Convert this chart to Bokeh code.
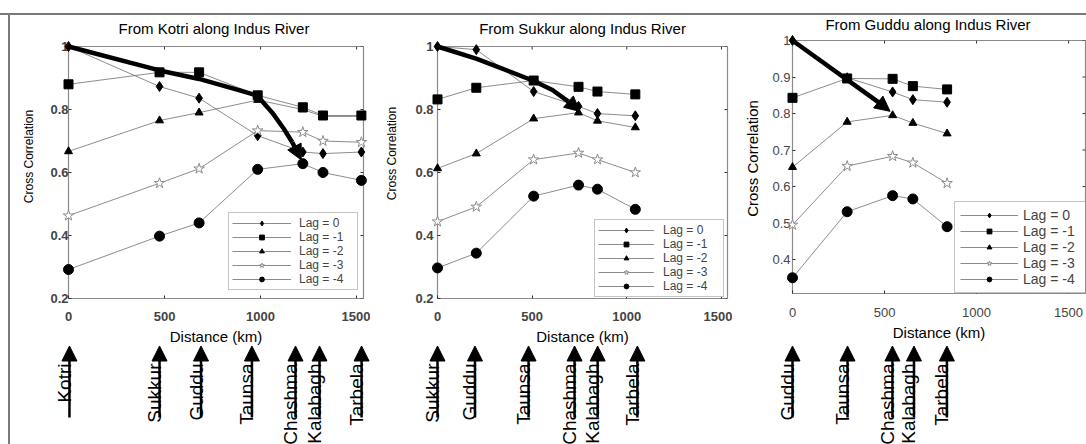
import math
from bokeh.plotting import figure
from bokeh.models import (Range1d, FixedTicker, Legend, LegendItem,
                          Arrow, NormalHead, CustomJSTickFormatter, ColumnDataSource)
from bokeh.layouts import row, column
from bokeh.embed import file_html
from bokeh.resources import INLINE
from bokeh.core.properties import value

FONT = "Liberation Sans"

lag_labels = ["Lag = 0", "Lag = -1", "Lag = -2", "Lag = -3", "Lag = -4"]
x_ticks = [0, 500, 1000, 1500]
x_title = "Distance (km)"
y_title = "Cross Correlation"

# ---------------- Panel a : from Kotri ----------------
title_a = "From Kotri along Indus River"
dist_a = [0, 474, 680, 985, 1220, 1325, 1525]
a_lag0 = [1.000, 0.873, 0.836, 0.717, 0.665, 0.660, 0.665]
a_lag1 = [0.880, 0.918, 0.918, 0.845, 0.807, 0.781, 0.781]
a_lag2 = [0.667, 0.765, 0.790, 0.830, 0.800, 0.778, 0.778]
a_lag3 = [0.463, 0.566, 0.612, 0.733, 0.728, 0.700, 0.696]
a_lag4 = [0.292, 0.398, 0.440, 0.610, 0.628, 0.600, 0.575]
trend_a_x = [0, 474, 680, 896, 983, 1061, 1121, 1165, 1212]
trend_a_y = [1.0, 0.924, 0.897, 0.860, 0.844, 0.790, 0.739, 0.696, 0.640]
stations_a = ["Kotri", "Sukkur", "Guddu", "Taunsa", "Chashma", "Kalabagh", "Tarbela"]
arrow_km_a = [5, 474, 690, 955, 1182, 1307, 1526]
yticks_a = [0.2, 0.4, 0.6, 0.8, 1.0]

# ---------------- Panel b : from Sukkur ----------------
title_b = "From Sukkur along Indus River"
dist_b = [0, 205, 508, 745, 845, 1045]
b_lag0 = [1.000, 0.990, 0.857, 0.810, 0.787, 0.780]
b_lag1 = [0.832, 0.869, 0.892, 0.872, 0.857, 0.848]
b_lag2 = [0.613, 0.660, 0.771, 0.790, 0.764, 0.743]
b_lag3 = [0.444, 0.491, 0.641, 0.662, 0.641, 0.600]
b_lag4 = [0.297, 0.344, 0.525, 0.560, 0.547, 0.483]
trend_b_x = [0, 208, 503, 607, 690, 752]
trend_b_y = [1.0, 0.961, 0.892, 0.862, 0.826, 0.794]
stations_b = ["Sukkur", "Guddu", "Taunsa", "Chashma", "Kalabagh", "Tarbela"]
arrow_km_b = [0, 198, 481, 724, 846, 1056]
yticks_b = [0.2, 0.4, 0.6, 0.8, 1.0]

# ---------------- Panel c : from Guddu ----------------
title_c = "From Guddu along Indus River"
dist_c = [0, 297, 544, 654, 840]
c_lag0 = [1.000, 0.898, 0.859, 0.838, 0.831]
c_lag1 = [0.843, 0.896, 0.895, 0.875, 0.866]
c_lag2 = [0.653, 0.777, 0.795, 0.774, 0.745]
c_lag3 = [0.495, 0.656, 0.683, 0.665, 0.609]
c_lag4 = [0.350, 0.531, 0.575, 0.566, 0.490]
trend_c_x = [0, 470, 530]
trend_c_y = [1.0, 0.830, 0.806]
stations_c = ["Guddu", "Taunsa", "Chashma", "Kalabagh", "Tarbela"]
arrow_km_c = [0, 299, 543, 660, 839]
yticks_c = [0.4, 0.5, 0.6, 0.7, 0.8, 0.9, 1.0]

# ---------------- styling ----------------
marker_specs = [
    dict(marker="diamond", size=10, fill_color="black", line_color="black"),
    dict(marker="square", size=9, fill_color="black", line_color="black"),
    dict(marker="triangle", size=8, fill_color="black", line_color="black"),
    dict(marker="star", size=11, fill_color="white", line_color="#8c8c8c"),
    dict(marker="circle", size=10, fill_color="black", line_color="black"),
]

TOP_H = 345
ARW_H = 444 - TOP_H
TICK = 3

fmt_code = "return (Math.round(tick*1000)/1000).toString();"


def make_panel(cfg):
    fh = cfg["fh"]
    fw = cfg["w"] - cfg["bl"] - cfg["br"]
    p = figure(frame_width=fw, frame_height=fh, frame_align=False,
               x_range=Range1d(0, cfg["xmax"]), y_range=Range1d(cfg["ylo"], 1.0),
               output_backend="svg", toolbar_location=None,
               min_border_left=cfg["bl"], min_border_right=cfg["br"],
               min_border_top=cfg["bt"], min_border_bottom=TOP_H - cfg["bt"] - fh,
               border_fill_color=None, background_fill_color="white",
               outline_line_color="#8a8a8a", outline_line_width=1.2)
    p.grid.visible = False

    xa = p.xaxis[0]
    ya = p.yaxis[0]
    for ax in (xa, ya):
        ax.axis_line_color = None
        ax.major_tick_in = TICK
        ax.major_tick_out = 0
        ax.minor_tick_line_color = None
        ax.major_tick_line_color = "#333333"
        ax.major_label_text_font = FONT
        ax.major_label_text_font_size = cfg["tick_fs"]
        ax.major_label_text_font_style = cfg["tick_style"]
        ax.formatter = CustomJSTickFormatter(code=fmt_code)
    xa.ticker = FixedTicker(ticks=x_ticks)
    ya.ticker = FixedTicker(ticks=cfg["yticks"])
    xa.major_label_standoff = cfg["xls"]
    ya.major_label_standoff = cfg["yls"]

    scale_x = fw / cfg["xmax"]
    ppu = fh / (1.0 - cfg["ylo"])

    # inward ticks on the top and right edges of the box
    tx_top = [t for t in x_ticks if t <= cfg["xmax"]]
    p.segment(x0=tx_top, x1=tx_top, y0=[1.0] * len(tx_top),
              y1=[1.0 - TICK / ppu] * len(tx_top), line_color="#333333", line_width=1)
    p.segment(x0=[cfg["xmax"]] * len(cfg["yticks"]),
              x1=[cfg["xmax"] - TICK / scale_x] * len(cfg["yticks"]),
              y0=cfg["yticks"], y1=cfg["yticks"], line_color="#333333", line_width=1)

    # title and axis titles drawn as unclipped text, offset in pixels from the frame
    p.text(x=[cfg["xmax"] / 2 + cfg["t_dx"] / scale_x], y=[1.0 + cfg["t_dy"] / ppu],
           text=[cfg["title"]], text_align="center", text_baseline="middle",
           text_font=value(FONT), text_font_size="15px", text_color="black",
           level="overlay")
    p.text(x=[cfg["xmax"] / 2], y=[cfg["ylo"] - cfg["xt_dy"] / ppu], text=[x_title],
           text_align="center", text_baseline="middle", text_font=value(FONT),
           text_font_size="15px", text_color="black", level="overlay")
    p.text(x=[-cfg["yt_dx"] / scale_x], y=[1.0 - cfg["yt_dy"] / ppu], text=[y_title],
           angle=math.pi / 2, text_align="center", text_baseline="middle",
           text_font=value(FONT), text_font_size=cfg["yt_fs"], text_color="black",
           level="overlay")

    items = []
    for lab, ys, spec in zip(lag_labels, cfg["series"], marker_specs):
        lr = p.line(cfg["dist"], ys, line_color="#6e6e6e", line_width=0.8)
        sr = p.scatter(cfg["dist"], ys, level="overlay", **spec)
        items.append(LegendItem(label=lab, renderers=[lr, sr]))

    tx, ty = cfg["trend"]
    p.line(tx[:-1], ty[:-1], line_color="black", line_width=4.5, level="overlay")
    p.add_layout(Arrow(end=NormalHead(size=15, fill_color="black", line_color="black"),
                       x_start=tx[-2], y_start=ty[-2], x_end=tx[-1], y_end=ty[-1],
                       line_color="black", line_width=4.5))

    leg = Legend(items=items, location=cfg["leg_loc"], orientation="vertical",
                 label_text_font=FONT, label_text_font_size=cfg["leg_fs"],
                 label_text_line_height=1.0,
                 glyph_width=cfg["gw"], glyph_height=12, label_height=12,
                 label_width=cfg["lw"],
                 label_standoff=cfg["ls"], spacing=0, padding=cfg["pad"], margin=0,
                 border_line_color="#8a8a8a", border_line_width=1,
                 background_fill_color="white", background_fill_alpha=1.0)
    p.add_layout(leg)
    return p


def make_arrows(cfg):
    frame_w = cfg["w"] - cfg["bl"] - cfg["br"]
    scale = frame_w / cfg["xmax"]
    x0 = -cfg["bl"] / scale
    x1 = cfg["xmax"] + cfg["br"] / scale
    q = figure(width=cfg["w"], height=ARW_H, frame_align=False,
               x_range=Range1d(x0, x1),
               y_range=Range1d(0, ARW_H), output_backend="svg", toolbar_location=None,
               x_axis_location=None, y_axis_location=None,
               min_border_left=0, min_border_right=0, min_border_top=0, min_border_bottom=0,
               border_fill_color=None, background_fill_color=None, outline_line_color=None)
    q.grid.visible = False
    n = len(cfg["arrows"])
    src = ColumnDataSource(dict(x=cfg["arrows"], y0=[ARW_H - 72] * n, y1=[ARW_H - 0.5] * n))
    q.add_layout(Arrow(end=NormalHead(size=15, fill_color="black", line_color="black"),
                       source=src, x_start="x", y_start="y0", x_end="x", y_end="y1",
                       line_color="black", line_width=2.5))
    gap = 5 / scale
    q.text(x=[v - gap for v in cfg["arrows"]], y=[ARW_H - 18] * n,
           text=cfg["stations"], angle=math.pi / 2, text_align="right",
           text_baseline="alphabetic", text_font=value(FONT), text_font_size="19px",
           text_color="black")
    return q


cfg_a = dict(title=title_a, w=370, bl=68, br=7, bt=46, fh=252, xmax=1536, ylo=0.2,
             yticks=yticks_a, dist=dist_a, series=[a_lag0, a_lag1, a_lag2, a_lag3, a_lag4],
             trend=(trend_a_x, trend_a_y), stations=stations_a, arrows=arrow_km_a,
             t_dx=-2, t_dy=18, tick_fs="13px", tick_style="bold", xls=13, yls=0,
             xt_dy=38, yt_dx=40, yt_dy=110, yt_fs="12px",
             leg_loc=(160, 8), leg_fs="12px", gw=59, ls=8, lw=55, pad=3)
cfg_b = dict(title=title_b, w=362, bl=67, br=5, bt=46, fh=252, xmax=1532, ylo=0.2,
             yticks=yticks_b, dist=dist_b, series=[b_lag0, b_lag1, b_lag2, b_lag3, b_lag4],
             trend=(trend_b_x, trend_b_y), stations=stations_b, arrows=arrow_km_b,
             t_dx=0, t_dy=18, tick_fs="13px", tick_style="bold", xls=13, yls=4,
             xt_dy=38, yt_dx=46, yt_dy=107, yt_fs="12px",
             leg_loc=(157, 1), leg_fs="12px", gw=56, ls=9, lw=57, pad=3)
cfg_c = dict(title=title_c, w=354, bl=60, br=1, bt=40, fh=253, xmax=1592, ylo=0.307,
             yticks=yticks_c, dist=dist_c, series=[c_lag0, c_lag1, c_lag2, c_lag3, c_lag4],
             trend=(trend_c_x, trend_c_y), stations=stations_c, arrows=arrow_km_c,
             t_dx=-11, t_dy=16.5, tick_fs="13px", tick_style="normal", xls=14, yls=2,
             xt_dy=39, yt_dx=40, yt_dy=118, yt_fs="15px",
             leg_loc=(162, 0), leg_fs="14px", gw=58, ls=5, lw=58, pad=5)

panels = [make_panel(c) for c in (cfg_a, cfg_b, cfg_c)]
arrows = [make_arrows(c) for c in (cfg_a, cfg_b, cfg_c)]

layout = column(row(*panels), row(*arrows),
                styles={"background-image": "linear-gradient(#7a7a7a,#7a7a7a), linear-gradient(#7a7a7a,#7a7a7a)",
                        "background-size": "100% 2px, 2px 100%",
                        "background-position": "0 13px, 8px 13px",
                        "background-repeat": "no-repeat"})

open("out.html", "w").write(file_html(layout, INLINE))
